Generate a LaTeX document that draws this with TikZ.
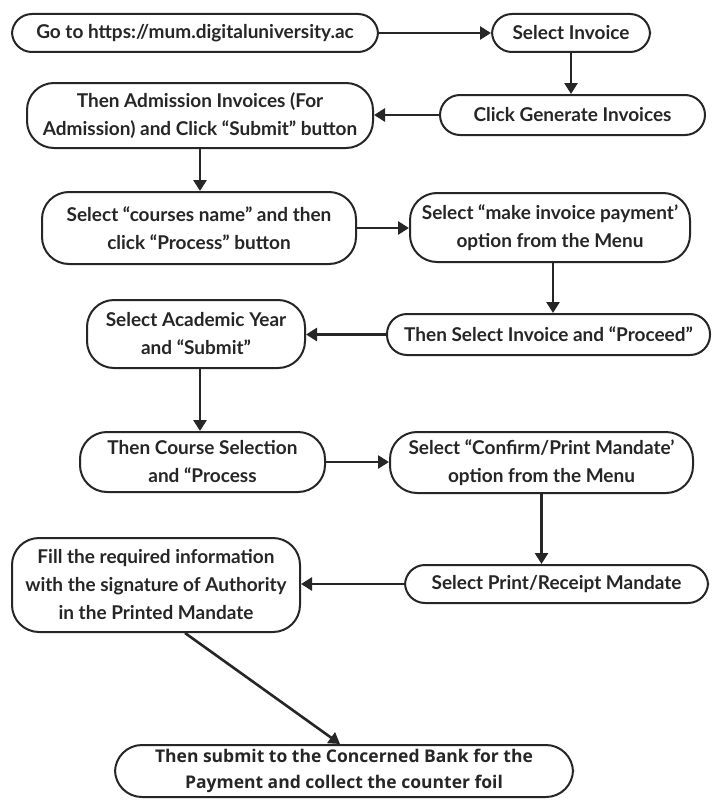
\documentclass[tikz,border=0pt]{standalone}
\usepackage{fontspec}
\setmainfont{Lato}
\newfontfamily\finalfont{Open Sans}
\usetikzlibrary{arrows.meta}
\begin{document}
\begin{tikzpicture}[x=1pt,y=-1pt,
  stepbox/.style={draw=black!85, line width=2pt, rounded corners=20pt,
    inner sep=0pt, align=center, font=\fontsize{19}{28}\selectfont\bfseries,
    text=black!85},
  tallbox/.style={stepbox, rounded corners=27pt},
  arr/.style={draw=black!85, line width=2.6pt,
    -{Triangle[length=11pt,width=13pt]}}]
\useasboundingbox (0,0) rectangle (713,800);
\fill[white] (0,0) rectangle (713,800);

\node[stepbox, minimum width=366pt, minimum height=38pt] (n1) at (195,33)
  {Go to https://mum.digitaluniversity.ac};
\node[stepbox, minimum width=158pt, minimum height=38pt] (n2) at (571,33)
  {Select Invoice};
\node[stepbox, minimum width=265pt, minimum height=40pt] (n3) at (572.5,115)
  {Click Generate Invoices};
\node[tallbox, minimum width=346pt, minimum height=65pt] (n4) at (200,115.5)
  {Then Admission Invoices (For\\Admission) and Click “Submit” button};
\node[tallbox, minimum width=314pt, minimum height=72pt] (n5) at (199,228)
  {Select “courses name” and then\\click “Process” button};
\node[tallbox, minimum width=280pt, minimum height=69pt] (n6) at (550,227.5)
  {Select “make invoice payment’\\option from the Menu};
\node[stepbox, minimum width=323pt, minimum height=41pt] (n7) at (548.5,334.5)
  {Then Select Invoice and “Proceed”};
\node[tallbox, minimum width=218pt, minimum height=68pt] (n8) at (196,334)
  {Select Academic Year\\and “Submit”};
\node[tallbox, minimum width=245pt, minimum height=60pt] (n9) at (202.5,462)
  {Then Course Selection\\and “Process};
\node[tallbox, minimum width=303pt, minimum height=61pt] (n10) at (541.5,462.5)
  {Select “Confirm/Print Mandate’\\option from the Menu};
\node[stepbox, minimum width=303pt, minimum height=38pt] (n11) at (556.5,584)
  {Select Print/Receipt Mandate};
\node[tallbox, minimum width=288pt, minimum height=94pt] (n12) at (156,585)
  {Fill the required information\\with the signature of Authority\\in the Printed Mandate};
\node[tallbox, minimum width=458pt, minimum height=52pt,
  font=\finalfont\fontsize{17.5}{26}\selectfont\bfseries] (n13) at (344,771)
  {Then submit to the Concerned Bank for the\\Payment and collect the counter foil};

\draw[arr] (n1.east) -- (n2.west);
\draw[arr] (n2.south) -- (n2.south |- n3.north);
\draw[arr] (n3.west) -- (n3.west -| n4.east);
\draw[arr] (n4.south) -- (n4.south |- n5.north);
\draw[arr] (n5.east) -- (n5.east -| n6.west);
\draw[arr] ([xshift=3pt]n6.south) -- ([xshift=3pt]n6.south |- n7.north);
\draw[arr] (n7.west) -- (n7.west -| n8.east);
\draw[arr] ([xshift=4pt]n8.south) -- ([xshift=4pt]n8.south |- n9.north);
\draw[arr] (n9.east) -- (n9.east -| n10.west);
\draw[arr] (n10.south) -- (n10.south |- n11.north);
\draw[arr] (n11.west) -- (n11.west -| n12.east);
\draw[arr] ([xshift=29pt]n12.south) -- ([xshift=-4pt]n13.north);
\end{tikzpicture}
\end{document}
